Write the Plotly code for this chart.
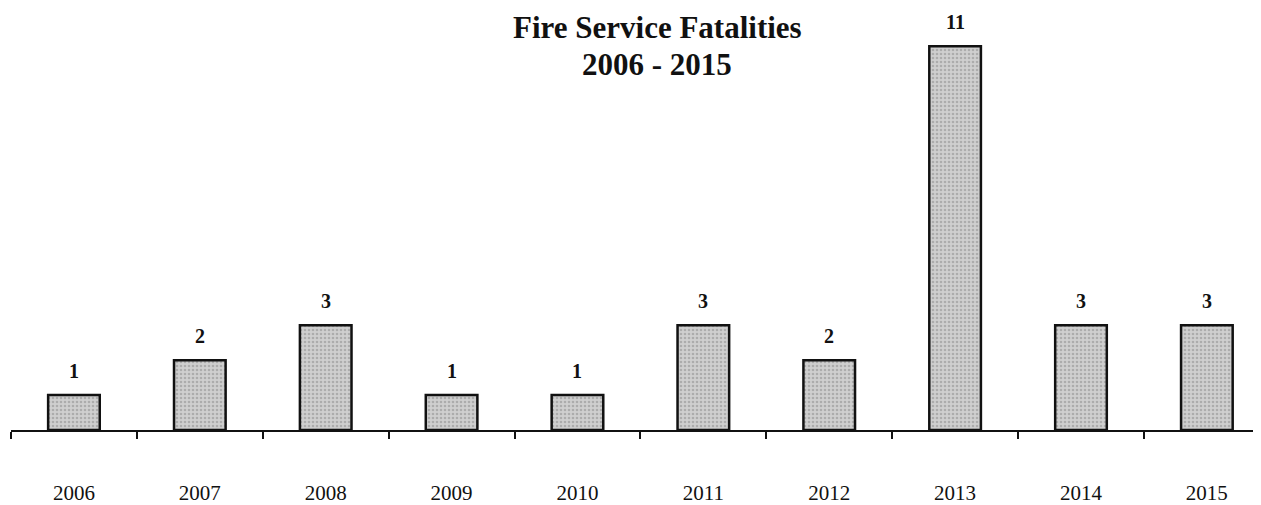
import plotly.graph_objects as go

years = ["2006", "2007", "2008", "2009", "2010", "2011", "2012", "2013", "2014", "2015"]
deaths = [1, 2, 3, 1, 1, 3, 2, 11, 3, 3]

serif = "Liberation Serif, Times New Roman, serif"

fig = go.Figure()
fig.add_trace(go.Bar(
    x=years, y=deaths, width=0.41,
    marker=dict(color="#c4c4c4",
                line=dict(color="#111111", width=2.5),
                pattern=dict(shape=".", fgcolor="#8a8a8a", bgcolor="#cfcfcf",
                             size=4, solidity=0.35)),
    hoverinfo="x+y",
))

# value labels above bars (x as category index so "2006" isn't read as a number)
for i, v in enumerate(deaths):
    fig.add_annotation(x=i, y=v, text="<b>%d</b>" % v, showarrow=False,
                       yanchor="middle", yshift=24,
                       font=dict(family=serif, size=20, color="#111111"))

# title as two lines placed separately
fig.add_annotation(x=0.517, y=0.954, xref="paper", yref="paper",
                   text="<b>Fire Service Fatalities</b>", showarrow=False,
                   xanchor="center", yanchor="middle",
                   font=dict(family=serif, size=31, color="#111111"))
fig.add_annotation(x=0.517, y=0.866, xref="paper", yref="paper",
                   text="<b>2006 - 2015</b>", showarrow=False,
                   xanchor="center", yanchor="middle",
                   font=dict(family=serif, size=31, color="#111111"))

# page body adds an 8px margin, so the figure is 8px smaller each way
fig.update_layout(
    width=1253, height=497,
    margin=dict(l=3, r=0, t=0, b=71),
    paper_bgcolor="white", plot_bgcolor="white",
    showlegend=False,
    xaxis=dict(type="category", range=[-0.5, 9.43],
               showline=True, linecolor="#111111", linewidth=1.5,
               ticks="outside", tickson="boundaries", ticklen=7,
               tickcolor="#111111", tickwidth=1.5,
               ticklabelstandoff=43,
               tickfont=dict(family=serif, size=21, color="#111111"),
               showgrid=False, zeroline=False),
    yaxis=dict(range=[0, 12.1], visible=False, showgrid=False, zeroline=False),
)

fig.write_html("out.html")
